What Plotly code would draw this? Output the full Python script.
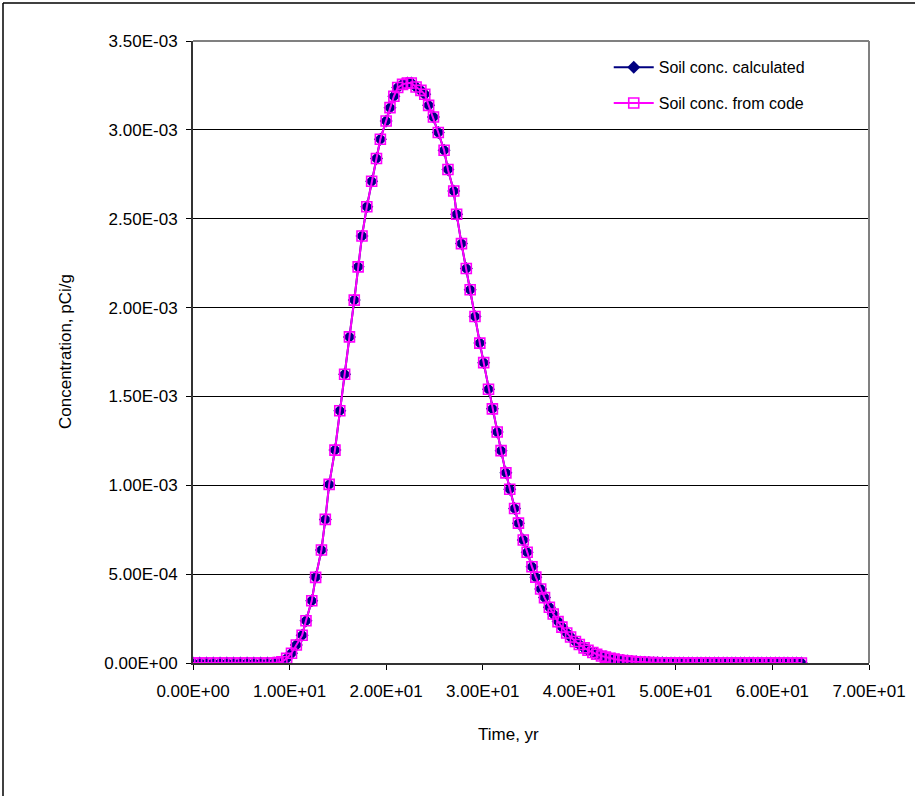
import plotly.graph_objects as go

# ---- data ----
time_yr = [
    0.0, 0.7, 1.4, 2.1, 2.8, 3.5, 4.2, 4.9, 5.6, 6.3, 7.0, 7.7, 8.4, 8.8,
    9.2, 9.7, 10.2, 10.7, 11.3, 11.7, 12.3, 12.7, 13.3, 13.7, 14.1, 14.7,
    15.2, 15.7, 16.2, 16.7, 17.1, 17.5, 18.0, 18.5, 19.0, 19.4, 20.0, 20.4,
    20.8, 21.2, 21.7, 22.2, 22.6, 23.1, 23.6, 24.0, 24.4, 24.9, 25.4, 26.0,
    26.4, 27.0, 27.3, 27.8, 28.3, 28.7, 29.2, 29.7, 30.1, 30.6, 31.0, 31.5,
    31.9, 32.4, 32.8, 33.3, 33.7, 34.2, 34.6, 35.1, 35.5, 36.0, 36.4, 36.9,
    37.3, 37.8, 38.2, 38.7, 39.1, 39.6, 40.0, 40.5, 40.9, 41.4, 41.8, 42.3,
    42.7, 43.2, 43.6, 44.1, 44.5, 45.0, 45.4, 45.9, 46.3, 46.8, 47.2, 47.7,
    48.1, 48.6, 49.0, 49.5, 49.9, 50.4, 50.8, 51.3, 51.7, 52.2, 52.6, 53.1,
    53.5, 54.0, 54.4, 54.9, 55.3, 55.8, 56.2, 56.7, 57.1, 57.6, 58.0, 58.5,
    58.9, 59.4, 59.8, 60.3, 60.7, 61.2, 61.6, 62.1, 62.5, 63.0,
]

conc_calc = [
    0.0, 0.0, 0.0, 0.0, 0.0, 0.0, 0.0, 0.0, 0.0, 0.0, 0.0, 0.0, 0.0, 0.000002,
    0.000007, 0.000026, 0.000055, 0.000101, 0.000156, 0.000238, 0.000350, 0.000482,
    0.000636, 0.000808, 0.001005, 0.001198,
    0.001419, 0.001625, 0.001835, 0.002042, 0.002229, 0.002403, 0.002567, 0.002711,
    0.002839, 0.002947, 0.003050, 0.003125,
    0.003189, 0.003238, 0.003256, 0.003264, 0.003264, 0.003241, 0.003222, 0.003200,
    0.003138, 0.003072, 0.002985, 0.002885,
    0.002777, 0.002656, 0.002525, 0.002360, 0.002220, 0.002100, 0.001950, 0.001800,
    0.001690, 0.001540, 0.001430, 0.001300,
    0.001195, 0.001070, 0.000978, 0.000869, 0.000787, 0.000692, 0.000623, 0.000542,
    0.000483, 0.000416, 0.000368, 0.000314,
    0.000276, 0.000233, 0.000202, 0.000169, 0.000146, 0.000121, 0.000104, 0.000085,
    0.000072, 0.0000587, 0.0000495, 0.0000397,
    0.0000332, 0.0000264, 0.0000220, 0.0000173, 0.0000140, 0.0000110, 0.0000090, 0.0000070,
    0.0000050, 0.0000040, 0.0000030, 0.0000020,
    0.0000015, 0.0000010, 0.0000007, 0.0, 0.0, 0.0, 0.0, 0.0, 0.0, 0.0, 0.0, 0.0,
    0.0, 0.0, 0.0, 0.0, 0.0, 0.0, 0.0, 0.0, 0.0, 0.0, 0.0, 0.0,
    0.0, 0.0, 0.0, 0.0, 0.0, 0.0, 0.0, 0.0, 0.0, 0.0,
]

conc_code = list(conc_calc)

x_tick_vals = [0, 10, 20, 30, 40, 50, 60, 70]
x_tick_text = ["0.00E+00", "1.00E+01", "2.00E+01", "3.00E+01",
               "4.00E+01", "5.00E+01", "6.00E+01", "7.00E+01"]
y_tick_vals = [0.0, 0.0005, 0.001, 0.0015, 0.002, 0.0025, 0.003, 0.0035]
y_tick_text = ["0.00E+00", "5.00E-04", "1.00E-03", "1.50E-03",
               "2.00E-03", "2.50E-03", "3.00E-03", "3.50E-03"]

FONT = "Liberation Sans, Arial, sans-serif"

fig = go.Figure()
fig.add_trace(go.Scatter(
    x=time_yr, y=conc_calc, mode="lines+markers",
    name="Soil conc. calculated", legendgroup="a",
    line=dict(color="#000080", width=2),
    marker=dict(symbol="diamond", size=10, color="#000080"),
))
fig.add_trace(go.Scatter(
    x=time_yr, y=conc_code, mode="lines+markers",
    name="Soil conc. from code", legendgroup="b",
    line=dict(color="#FF00FF", width=2),
    marker=dict(symbol="square-open", size=10, color="#FF00FF",
                line=dict(color="#FF00FF", width=1.6)),
))

W, H = 915, 796
L, R, T, B = 193, 46, 41, 133
PW, PH = W - L - R, H - T - B


def px_x(x):
    return (x - L) / PW


def px_y(y):
    return (H - B - y) / PH


fig.update_layout(
    width=W, height=H,
    margin=dict(l=L, r=R, t=T, b=B, autoexpand=False),
    paper_bgcolor="white", plot_bgcolor="white",
    font=dict(family=FONT, size=17, color="black"),
    showlegend=True,
    legend=dict(
        x=0.615, xanchor="left", y=0.985, yanchor="top",
        bgcolor="rgba(0,0,0,0)", borderwidth=0,
        font=dict(family=FONT, size=16, color="black"),
        itemwidth=40, traceorder="grouped", tracegroupgap=12,
    ),
    xaxis=dict(
        range=[0, 70], tickmode="array", tickvals=x_tick_vals, ticktext=x_tick_text,
        ticks="outside", ticklen=5, tickcolor="black", tickwidth=1,
        ticklabelstandoff=7,
        showline=True, linecolor="#333333", linewidth=2, mirror=False,
        showgrid=False, zeroline=False,
        tickfont=dict(family=FONT, size=17),
    ),
    yaxis=dict(
        range=[0, 0.0035], tickmode="array", tickvals=y_tick_vals, ticktext=y_tick_text,
        ticks="outside", ticklen=5, tickcolor="black", tickwidth=1,
        ticklabelstandoff=5,
        showline=True, linecolor="#333333", linewidth=2, mirror=False,
        showgrid=True, gridcolor="black", gridwidth=1, zeroline=False,
        tickfont=dict(family=FONT, size=17),
    ),
    annotations=[
        dict(text="Time, yr", xref="paper", yref="paper",
             x=px_x(508), y=px_y(734), xanchor="center", yanchor="middle",
             showarrow=False, font=dict(family=FONT, size=17)),
        dict(text="Concentration, pCi/g", xref="paper", yref="paper",
             x=px_x(65), y=0.5, xanchor="center", yanchor="middle", textangle=-90,
             showarrow=False, font=dict(family=FONT, size=17)),
    ],
    shapes=[
        # gray plot-area frame (top and right)
        dict(type="line", xref="paper", yref="paper", x0=0, x1=1, y0=1, y1=1,
             line=dict(color="#808080", width=2)),
        dict(type="line", xref="paper", yref="paper", x0=1, x1=1, y0=0, y1=1,
             line=dict(color="#808080", width=2)),
        # outer chart border (top and left)
        dict(type="line", xref="paper", yref="paper",
             x0=px_x(3), x1=px_x(W + 5), y0=px_y(3), y1=px_y(3),
             line=dict(color="black", width=1.5)),
        dict(type="line", xref="paper", yref="paper",
             x0=px_x(3), x1=px_x(3), y0=px_y(3), y1=px_y(H + 5),
             line=dict(color="black", width=1.5)),
    ],
)

fig.write_html("out.html", config={"displayModeBar": False},
               post_script="document.body.style.margin='0';document.body.style.overflow='hidden';")
